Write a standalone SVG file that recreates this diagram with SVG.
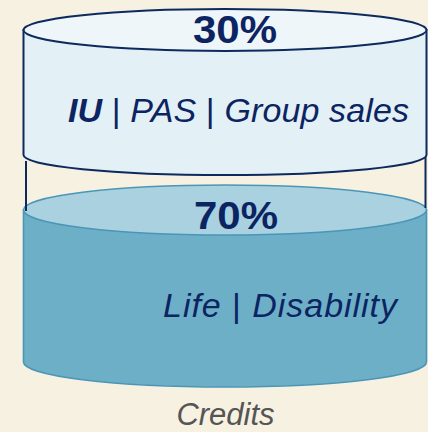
<svg xmlns="http://www.w3.org/2000/svg" width="428" height="432" viewBox="0 0 428 432">
<style>
.top-body{fill:#e3f0f5;stroke:#0c2a5e;stroke-width:2}
.top-cap{fill:#eef6f9;stroke:#0c2a5e;stroke-width:2}
.low-body{fill:#6eafc8;stroke:#4b96b6;stroke-width:1.6}
.low-cap{fill:#a9d1e0;stroke:#4b96b6;stroke-width:1.6}
.pct{font-family:"Liberation Sans",Arial,sans-serif;font-weight:bold;font-size:39px;fill:#0c2461}
.lbl{font-family:"Liberation Sans",Arial,sans-serif;font-style:italic;font-size:34px;fill:#0c2461}
.sep{font-weight:normal;font-style:normal}
.cap{font-family:"Liberation Sans",Arial,sans-serif;font-style:italic;font-size:31px;fill:#555555}
.conn{stroke:#0c2a5e;stroke-width:2;fill:none}
</style>
<rect x="0" y="0" width="428" height="432" fill="#f7f1e2"/>
<g id="node-top">
<path class="top-body" d="M23.5,30 V155 A201.5,20 0 0 0 426.5,155 V30 Z"/>
<ellipse class="top-cap" cx="225" cy="30" rx="201.5" ry="21"/>
<text class="pct" x="235" y="43" text-anchor="middle" textLength="84" lengthAdjust="spacingAndGlyphs">30%</text>
<text class="lbl" x="68" y="122" textLength="341" lengthAdjust="spacing"><tspan font-weight="bold">IU</tspan> <tspan class="sep">|</tspan> PAS <tspan class="sep">|</tspan> Group sales</text>
</g>
<g id="node-bottom">
<path class="low-body" d="M23.5,210 V362 A201.5,25 0 0 0 426.5,362 V210 Z"/>
<ellipse class="low-cap" cx="225" cy="210" rx="201.5" ry="25"/>
<text class="pct" x="236" y="229" text-anchor="middle" textLength="84" lengthAdjust="spacingAndGlyphs">70%</text>
<text class="lbl" x="163" y="317" textLength="234" lengthAdjust="spacing">Life <tspan class="sep">|</tspan> Disability</text>
</g>
<g id="connectors">
<line class="conn" x1="26" y1="161" x2="26" y2="211"/>
<line class="conn" x1="425.5" y1="157" x2="425.5" y2="208"/>
</g>
<g id="caption">
<text class="cap" x="225.5" y="425" text-anchor="middle">Credits</text>
</g>
</svg>
